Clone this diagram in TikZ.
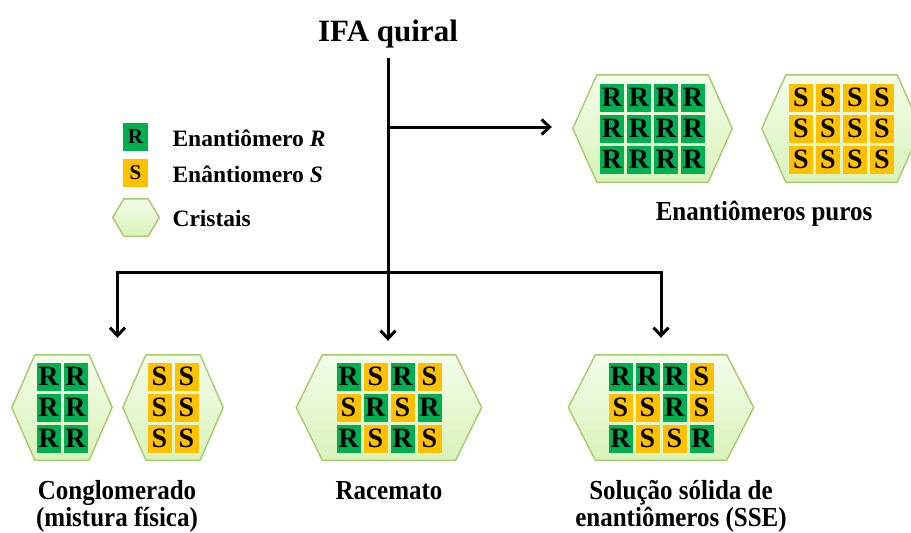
\documentclass[tikz,border=0pt]{standalone}
\usepackage{fontspec}
\usepackage{graphicx}
\setmainfont{Liberation Serif}
\usetikzlibrary{arrows.meta,calc}

\definecolor{tilecolR}{HTML}{00B050}
\definecolor{tilecolS}{HTML}{FFC000}
\definecolor{hexedge}{HTML}{A5CC6B}
\definecolor{hextop}{HTML}{F4FCEA}
\definecolor{hexbottom}{HTML}{D9F3BA}

\tikzset{
  flow/.style={line width=3pt, line join=miter, -{Straight Barb[length=8pt,width=15pt]}},
  tilebase/.style={minimum width=24pt, minimum height=28pt, inner sep=0pt,
    font=\fontsize{28}{28}\selectfont\bfseries},
  tile/.style={tilebase, fill=tilecol#1},
  legendtile/.style={tilebase, minimum width=25pt, fill=tilecol#1,
    font=\fontsize{21}{21}\selectfont\bfseries},
  crystal/.style={draw=hexedge, line width=1.4pt, top color=hextop,
    bottom color=hexbottom, line join=round},
  caption/.style={font=\fontsize{25}{28}\selectfont\bfseries, anchor=base},
  legendtext/.style={font=\fontsize{23.5}{26}\selectfont\bfseries, anchor=base west},
}

% captions are set slightly taller than wide
\newcommand{\tallcap}[1]{\scalebox{1}[1.1]{#1}}

% crystal outline: name, centre x, centre y, half width, half height, corner inset
\newcommand{\crystalhex}[6]{%
  \node[inner sep=0pt, minimum width={2*#4pt}, minimum height={2*#5pt}] (#1) at (#2,#3) {};
  \draw[crystal] (#1.west) -- ([xshift=#6pt]#1.north west) -- ([xshift=-#6pt]#1.north east)
    -- (#1.east) -- ([xshift=-#6pt]#1.south east) -- ([xshift=#6pt]#1.south west) -- cycle;
}
% one row of enantiomer tiles: name prefix, first centre x, centre y, letters
\newcommand{\tilerow}[4]{%
  \foreach \l [count=\i] in {#4} {\node[tile=\l] (#1-\i) at ({#2+(\i-1)*27}, #3) {\l};}
}

\begin{document}
\begin{tikzpicture}[x=1pt, y=-1pt]
\useasboundingbox (0,0) rectangle (911,533);

% title
\node[font=\fontsize{31}{31}\selectfont\bfseries, anchor=base] (title) at (388,41) {IFA quiral};

% legend
\node[legendtile=R] (legR) at (135.5,137) {R};
\node[legendtile=S] (legS) at (135.5,173) {S};
\crystalhex{legX}{136}{217.5}{23}{18.5}{11}
\node[legendtext] (legRtxt) at (169,146) {Enantiômero \textit{R}};
\node[legendtext] (legStxt) at (169,182) {Enântiomero \textit{S}};
\node[legendtext] (legXtxt) at (169,226) {Cristais};

% pure enantiomers
\crystalhex{pureR}{652.5}{128.5}{79.5}{53.5}{24}
\crystalhex{pureS}{841.5}{128.5}{79.5}{53.5}{24}
\tilerow{pureR-a}{612}{97.5}{R,R,R,R}
\tilerow{pureR-b}{612}{128.5}{R,R,R,R}
\tilerow{pureR-c}{612}{159.5}{R,R,R,R}
\tilerow{pureS-a}{801}{97.5}{S,S,S,S}
\tilerow{pureS-b}{801}{128.5}{S,S,S,S}
\tilerow{pureS-c}{801}{159.5}{S,S,S,S}
\node[caption] (purelab) at (764,220) {\tallcap{Enantiômeros puros}};

% conglomerate
\crystalhex{conglR}{62}{407.5}{50}{52.5}{23}
\crystalhex{conglS}{173}{407.5}{50}{52.5}{23}
\tilerow{conglR-a}{48.5}{376.5}{R,R}
\tilerow{conglR-b}{48.5}{407.5}{R,R}
\tilerow{conglR-c}{48.5}{438.5}{R,R}
\tilerow{conglS-a}{159.5}{376.5}{S,S}
\tilerow{conglS-b}{159.5}{407.5}{S,S}
\tilerow{conglS-c}{159.5}{438.5}{S,S}
\node[caption] (congl1) at (117,499) {\tallcap{Conglomerado}};
\node[caption] (congl2) at (117,526) {\tallcap{(mistura física)}};

% racemate
\crystalhex{race}{389}{407.5}{92.5}{52.5}{26}
\tilerow{race-a}{348.5}{376.5}{R,S,R,S}
\tilerow{race-b}{348.5}{407.5}{S,R,S,R}
\tilerow{race-c}{348.5}{438.5}{R,S,R,S}
\node[caption] (racelab) at (389,499) {\tallcap{Racemato}};

% solid solution
\crystalhex{sse}{661}{407.5}{92.5}{52.5}{27}
\tilerow{sse-a}{620.5}{376.5}{R,R,R,S}
\tilerow{sse-b}{620.5}{407.5}{S,S,R,S}
\tilerow{sse-c}{620.5}{438.5}{R,S,S,R}
\node[caption] (sse1) at (681,499) {\tallcap{Solução sólida de}};
\node[caption] (sse2) at (681,526) {\tallcap{enantiômeros (SSE)}};

% connectors
\coordinate (trunk) at ($(title.base)+(0,17)$);
\coordinate (raceIn) at ($(race.north)+(0,-14)$);
\coordinate (pureIn) at ($(pureR.west)+(-21,-1.5)$);
\coordinate (junction) at (trunk |- 0,272);
\coordinate (conglIn) at ($($(conglR.north east)!0.5!(conglS.north west)$)+(0,-17)$);
\coordinate (sseIn) at ($(sse.north)+(0,-17)$);

\draw[flow] (trunk) -- (trunk |- raceIn);
\draw[flow] (trunk |- pureIn) -- (pureIn);
\draw[flow] (junction) -| (conglIn);
\draw[flow] (junction) -| (sseIn);
\end{tikzpicture}
\end{document}
